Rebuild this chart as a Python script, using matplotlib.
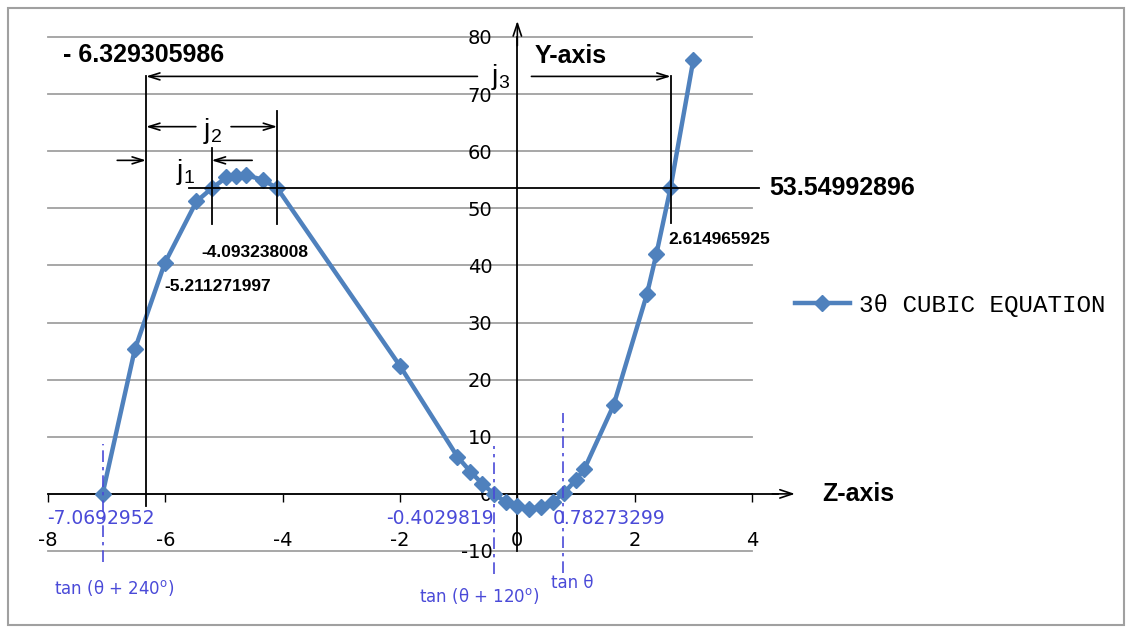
import matplotlib.pyplot as plt
from matplotlib.patches import Rectangle

# curve points
z_vals = [-7.07, -6.52, -6.01, -5.47, -5.21, -4.96, -4.79, -4.62, -4.34, -4.09,
          -2.0, -1.02, -0.8, -0.6, -0.4, -0.2, 0.0, 0.2, 0.4, 0.6, 0.8, 1.0,
          1.14, 1.64, 2.21, 2.37, 2.61, 3.0]
y_vals = [0.0, 25.3, 40.4, 51.2, 53.5, 55.4, 55.7, 55.8, 55.0, 53.5,
          22.4, 6.5, 3.9, 1.8, 0.0, -1.4, -2.2, -2.6, -2.3, -1.4, 0.2, 2.5,
          4.3, 15.5, 35.0, 42.0, 53.5, 76.0]

# roots and marked values
roots = [-7.0692952, -0.4029819, 0.78273299]
root_labels = ["-7.0692952", "-0.4029819", "0.78273299"]
root_names = ["tan (\u03b8 + 240$^{\\rm o}$)", "tan (\u03b8 + 120$^{\\rm o}$)", "tan \u03b8"]
level = 53.54992896
j_left = -6.329305986
j1_right = -5.211271997
j2_right = -4.093238008
j3_right = 2.614965925

x_ticks = [-8, -6, -4, -2, 0, 2, 4]
y_ticks = [-10, 0, 10, 20, 30, 40, 50, 60, 70, 80]

plt.rcParams["font.family"] = "DejaVu Sans"
plt.rcParams["axes.unicode_minus"] = False

fig = plt.figure(figsize=(11.32, 6.33), dpi=100)
ax = fig.add_axes([48 / 1132, 82 / 633, 704 / 1132, 514 / 633])
ax.set_xlim(-8, 4)
ax.set_ylim(-10, 80)

fig.patches.append(Rectangle((8 / 1132, 8 / 633), 1116 / 1132, 617 / 633,
                             transform=fig.transFigure, fill=False,
                             edgecolor="#a0a0a0", lw=1.5))

# axes through the origin
for s in ["top", "right"]:
    ax.spines[s].set_visible(False)
ax.spines["bottom"].set_position(("data", 0))
ax.spines["left"].set_position(("data", 0))
ax.spines["bottom"].set_linewidth(1.3)
ax.spines["left"].set_linewidth(1.3)
ax.set_xticks(x_ticks)
ax.set_yticks(y_ticks)
ax.tick_params(axis="x", direction="out", length=6, width=1, pad=21, labelsize=14)
ax.tick_params(axis="y", length=0, pad=18, labelsize=14)
ax.yaxis.grid(True, color="#a0a0a0", lw=1.3)
for gl in ax.get_ygridlines():
    gl.set_clip_on(False)
ax.set_axisbelow(True)

# axis extensions with open arrowheads
ax.plot([4, 4.45], [0, 0], color="black", lw=1.3, clip_on=False)
ax.annotate("", xy=(4.78, 0), xytext=(4.3, 0),
            arrowprops=dict(arrowstyle="->,head_length=0.9,head_width=0.3", lw=1.2, color="black"),
            annotation_clip=False)
ax.annotate("", xy=(0, 83.3), xytext=(0, 78),
            arrowprops=dict(arrowstyle="->,head_length=0.9,head_width=0.3", lw=1.2, color="black"),
            annotation_clip=False)
ax.text(5.2, 0, "Z-axis", fontsize=18, fontweight="bold", family="Liberation Sans",
        va="center", ha="left", clip_on=False)
ax.text(0.3, 76.6, "Y-axis", fontsize=18, fontweight="bold", family="Liberation Sans",
        va="center", ha="left")

# the curve
ax.plot(z_vals, y_vals, color="#4f81bd", lw=3.2, marker="D", markersize=8,
        label="3\u03b8 CUBIC EQUATION", clip_on=False, zorder=3)

# dimension lines
k = dict(color="black", lw=1.3, clip_on=False, zorder=4)
ax.plot([j_left, j_left], [-2.1, 73.1], **k)
ax.plot([j1_right, j1_right], [47.2, 60.5], **k)
ax.plot([j2_right, j2_right], [47.2, 67], **k)
ax.plot([j3_right, j3_right], [47.4, 73.1], **k)
ax.plot([-5.6, 4.12], [level, level], **k)

arr = dict(arrowstyle="->,head_length=0.8,head_width=0.25", lw=1.2, color="black",
           shrinkA=0, shrinkB=0)
ax.annotate("", xy=(j_left, 73.1), xytext=(-0.68, 73.1), arrowprops=arr, annotation_clip=False)
ax.annotate("", xy=(j3_right, 73.1), xytext=(0.24, 73.1), arrowprops=arr, annotation_clip=False)
ax.annotate("", xy=(j_left, 64.3), xytext=(-5.48, 64.3), arrowprops=arr)
ax.annotate("", xy=(j2_right, 64.3), xytext=(-4.88, 64.3), arrowprops=arr)
ax.annotate("", xy=(j_left, 58.4), xytext=(-6.82, 58.4), arrowprops=arr)
ax.annotate("", xy=(j1_right, 58.4), xytext=(-4.52, 58.4), arrowprops=arr)

jf = dict(fontsize=20, family="Liberation Sans", va="center", ha="center")
ax.text(-5.66, 56.3, "j$_{\\mathregular{1}}$", **jf)
ax.text(-5.2, 63.6, "j$_{\\mathregular{2}}$", **jf)
ax.text(-0.28, 73.0, "j$_{\\mathregular{3}}$", **jf)

bf = dict(fontweight="bold", family="Liberation Sans", va="center", ha="left")
ax.text(-7.75, 76.9, "- 6.329305986", fontsize=18, **bf)
ax.text(4.29, level, "53.54992896", fontsize=18, clip_on=False, **bf)
ax.text(-6.02, 36.4, "-5.211271997", fontsize=12.5, **bf)
ax.text(-5.38, 42.3, "-4.093238008", fontsize=12.5, **bf)
ax.text(2.58, 44.6, "2.614965925", fontsize=12.5, **bf)

# roots: dashed guides and labels
blue = "#4a4ad8"
guide_tops = [8.7, 8.4, 14.2]
guide_bottoms = [-12.0, -14.0, -13.8]
label_x = [-8.02, -2.23, 0.6]
name_xy = [(-7.89, -16.4), (-1.67, -17.8), (0.58, -15.6)]
for r, lab, nm, t, b, lx, nxy in zip(roots, root_labels, root_names, guide_tops,
                                     guide_bottoms, label_x, name_xy):
    ax.plot([r, r], [b, t], color=blue, lw=1.2, ls=(0, (7, 3, 2, 3)), clip_on=False, zorder=5)
    ax.text(lx, -4.3, lab, color=blue, fontsize=13.5, va="center", ha="left", zorder=6)
    ax.text(nxy[0], nxy[1], nm, color=blue, fontsize=12, va="center", ha="left",
            clip_on=False)

ax.legend(loc="center left", bbox_to_anchor=(795 / 1132, 1 - 305 / 633),
          bbox_transform=fig.transFigure, frameon=False, borderaxespad=0,
          borderpad=0, handlelength=2.25, handletextpad=0.4,
          prop=dict(family="Liberation Mono", size=17.5))

fig.savefig("out.png", dpi=100)
